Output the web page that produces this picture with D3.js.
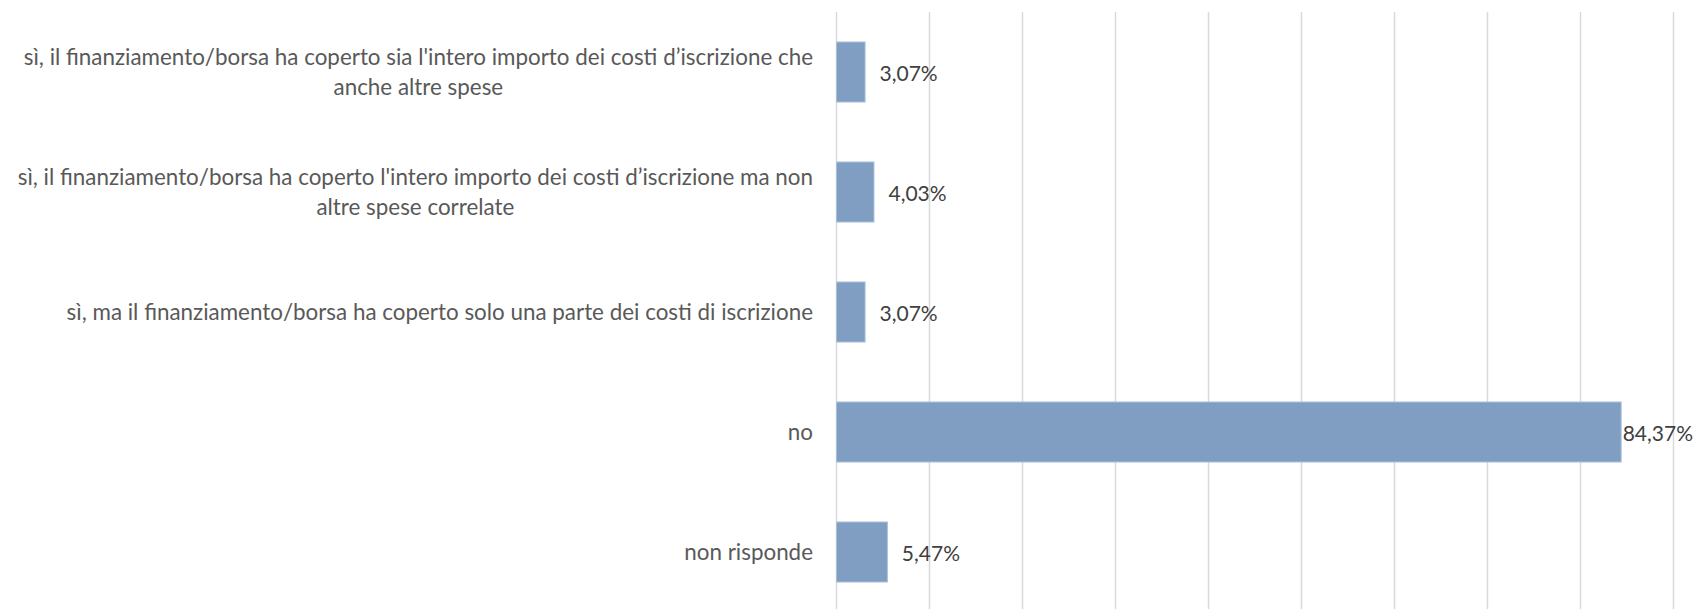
<!DOCTYPE html>
<html>
<head>
<meta charset="utf-8">
<script src="https://cdn.jsdelivr.net/npm/d3@7"></script>
<style>
  html, body { margin: 0; padding: 0; background: #fff; }
  svg { display: block; }
</style>
</head>
<body>
<div id="chart"></div>
<script>
// chart values
const categories = [
  ["sì, il finanziamento/borsa ha coperto sia l'intero importo dei costi d’iscrizione che", "anche altre spese"],
  ["sì, il finanziamento/borsa ha coperto l'intero importo dei costi d’iscrizione ma non", "altre spese correlate"],
  ["sì, ma il finanziamento/borsa ha coperto solo una parte dei costi di iscrizione"],
  ["no"],
  ["non risponde"]
];
const values = [3.07, 4.03, 3.07, 84.37, 5.47];
const gridTicks = [0, 10, 20, 30, 40, 50, 60, 70, 80, 90];

const width = 1696;
const height = 609;
const margin = { top: 12, left: 836, right: 23 };
const fontFamily = "Lato, 'Open Sans', sans-serif";

const svg = d3.select('#chart')
  .append('svg')
  .attr('width', width)
  .attr('height', height);

const x = d3.scaleLinear()
  .domain([0, 90])
  .range([margin.left, width - margin.right]);

const y = d3.scaleBand()
  .domain(d3.range(categories.length))
  .range([margin.top, margin.top + 600])
  .paddingInner(0.5)
  .paddingOuter(0.25);

// vertical gridlines (the 0 line doubles as the axis)
svg.append('g')
  .selectAll('line')
  .data(gridTicks)
  .enter()
  .append('line')
    .attr('x1', d => Math.round(x(d)) + 0.5)
    .attr('x2', d => Math.round(x(d)) + 0.5)
    .attr('y1', margin.top)
    .attr('y2', height)
    .attr('stroke', '#d9d9d9')
    .attr('stroke-width', 1.5);

// bars
svg.append('g')
  .selectAll('rect')
  .data(values)
  .enter()
  .append('rect')
    .attr('x', x(0) + 0.5)
    .attr('y', (d, i) => y(i))
    .attr('width', d => x(d) - x(0))
    .attr('height', y.bandwidth())
    .attr('fill', '#809ec2')
    .attr('stroke', '#a9bfdb')
    .attr('stroke-width', 1);

// category labels; wrapped lines are centred under the first line
const labelRight = margin.left - 23;
const lineGap = 30;

const labels = svg.append('g')
  .attr('font-family', fontFamily)
  .attr('font-size', 22.4)
  .attr('fill', '#595959');

categories.forEach((lines, i) => {
  const cy = y(i) + y.bandwidth() / 2;
  let center = labelRight;
  lines.forEach((t, j) => {
    const txt = labels.append('text')
      .attr('y', cy + (j - (lines.length - 1) / 2) * lineGap)
      .attr('dy', '0.35em')
      .text(t);
    if (j === 0) {
      txt.attr('x', labelRight).attr('text-anchor', 'end');
      center = labelRight - txt.node().getComputedTextLength() / 2;
    } else {
      txt.attr('x', center).attr('text-anchor', 'middle');
    }
  });
});

// value labels
const fmt = v => d3.format('.2f')(v).replace('.', ',') + '%';
svg.append('g')
  .selectAll('text')
  .data(values)
  .enter()
  .append('text')
    .attr('font-family', fontFamily)
    .attr('font-size', 21)
    .attr('fill', '#404040')
    .attr('y', (d, i) => y(i) + y.bandwidth() / 2)
    .attr('dy', '0.42em')
    .text(fmt)
    .attr('x', function(d) {
      const w = this.getComputedTextLength();
      return Math.min(x(d) + 15, width - 3 - w);
    });
</script>
</body>
</html>
